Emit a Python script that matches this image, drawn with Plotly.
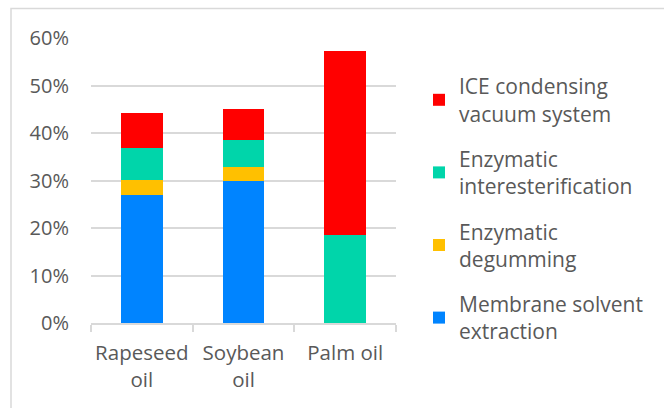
import plotly.graph_objects as go

# Cost share of each technology in the refining chain, by oil type
categories = ["Rapeseed<br>oil", "Soybean<br>oil", "Palm oil"]
membrane_solvent_extraction = [0.269, 0.300, 0.0]
enzymatic_degumming = [0.032, 0.028, 0.0]
enzymatic_interesterification = [0.067, 0.057, 0.186]
ice_condensing_vacuum = [0.075, 0.065, 0.387]

series = [
    ("Membrane solvent<br>extraction", membrane_solvent_extraction, "#0084FF"),
    ("Enzymatic<br>degumming", enzymatic_degumming, "#FFC000"),
    ("Enzymatic<br>interesterification", enzymatic_interesterification, "#00D5AA"),
    ("ICE condensing<br>vacuum system", ice_condensing_vacuum, "#FF0000"),
]

W, H = 664, 408
L, R, T, B = 91, 396, 38, 323  # plot area in pixels

fig = go.Figure()
for i, (name, vals, color) in enumerate(series):
    fig.add_trace(go.Bar(
        x=categories, y=vals, name=name,
        marker=dict(color=color, line=dict(width=0)),
        legendgroup=f"g{i}",
        legendrank=len(series) - i,  # top segment listed first
    ))

text_color = "#595959"
grid_color = "#D9D9D9"

def px_x(p):
    return (p - L) / (R - L)

def px_y(p):
    return (B - p) / (B - T)

fig.update_layout(
    width=W, height=H,
    margin=dict(l=L, r=W - R, t=T, b=H - B, pad=0, autoexpand=False),
    barmode="stack",
    bargap=0.59,
    paper_bgcolor="white",
    plot_bgcolor="white",
    font=dict(family="Open Sans", size=20, color=text_color),
    showlegend=True,
    legend=dict(
        traceorder="grouped",
        tracegroupgap=15,
        x=px_x(419), xanchor="left",
        y=px_y(66), yanchor="top",
        bgcolor="rgba(0,0,0,0)",
        font=dict(size=21, color=text_color),
        itemwidth=30,
        maxheight=400,
    ),
    xaxis=dict(
        showgrid=False,
        showline=True, linecolor=grid_color, linewidth=1.5,
        ticks="outside", ticklen=7, tickcolor=grid_color, tickwidth=1.5,
        tickson="boundaries",
        tickangle=0,
        automargin=False,
        ticklabelstandoff=11,
        tickfont=dict(size=20.5, color=text_color),
        fixedrange=True,
    ),
    yaxis=dict(
        range=[0, 0.6],
        tickvals=[0, 0.1, 0.2, 0.3, 0.4, 0.5, 0.6],
        tickformat=".0%",
        showgrid=True, gridcolor=grid_color, gridwidth=1.5,
        zeroline=False, showline=False,
        ticks="", ticklabelstandoff=21,
        automargin=False,
        tickfont=dict(size=20, color=text_color),
        fixedrange=True,
    ),
    shapes=[
        dict(type="rect", xref="paper", yref="paper",
             x0=px_x(11), x1=px_x(700), y0=px_y(440), y1=px_y(8.5),
             line=dict(color=grid_color, width=1.5), layer="below"),
    ],
)

fig.write_html("out.html")
